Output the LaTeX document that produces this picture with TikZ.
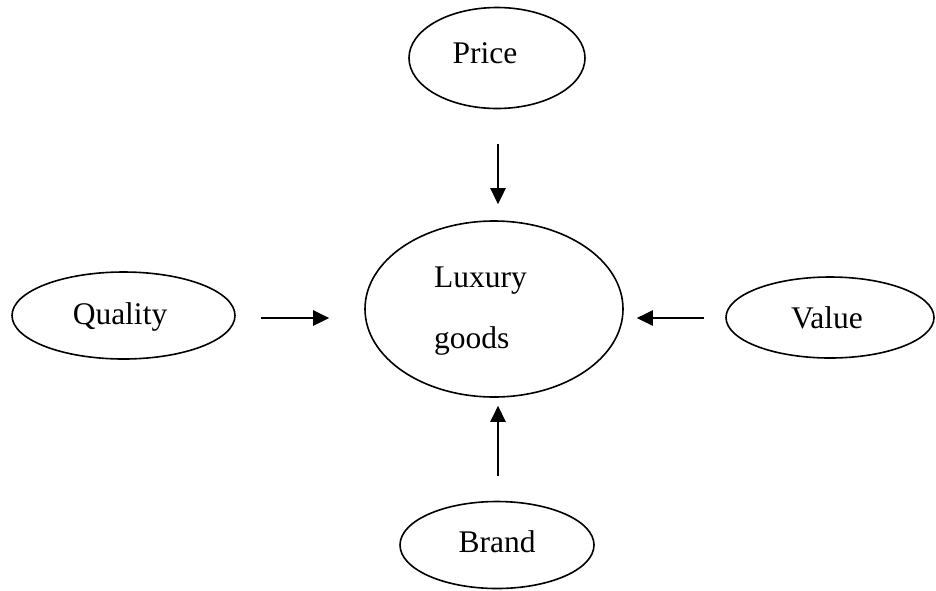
\documentclass[tikz,border=0pt]{standalone}
\usepackage{fontspec}
\setmainfont{Liberation Serif}
\usetikzlibrary{shapes.geometric,arrows.meta,calc}
\begin{document}
\begin{tikzpicture}[x=1pt,y=-1pt,
  oval/.style={draw=black,line width=1.6pt,ellipse,inner sep=0pt},
  lbl/.style={inner sep=0pt,anchor=base,font=\fontsize{31.5}{36}\selectfont},
  arr/.style={line width=2.6pt,-{Triangle[length=16pt,width=15pt]}}]
\useasboundingbox (0,0) rectangle (936,590);
\node[oval,minimum width=176pt,minimum height=101pt] (price) at (497,58) {};
\node[oval,minimum width=258pt,minimum height=176pt] (lux) at (494,309) {};
\node[oval,minimum width=223pt,minimum height=87pt] (qual) at (123.5,315.5) {};
\node[oval,minimum width=208pt,minimum height=81pt] (val) at (830,317.5) {};
\node[oval,minimum width=194pt,minimum height=87pt] (brand) at (497,545) {};
\node[lbl] (priceT) at (485,63) {Price};
\node[lbl] (qualT) at (120,324) {Quality};
\node[lbl] (valT) at (827,328) {Value};
\node[lbl] (brandT) at (497,552) {Brand};
\node[lbl,anchor=base west] (luxT1) at (434,287) {Luxury};
\node[lbl,anchor=base west] (luxT2) at (434,348) {goods};
\draw[arr] ($(price.south)+(1,35)$) -- ($(lux.north)+(4,-16)$);
\draw[arr] ($(qual.east)+(25,2.5)$) -- ($(lux.west)+(-35,9)$);
\draw[arr] ($(val.west)+(-21,0.5)$) -- ($(lux.east)+(13,9)$);
\draw[arr] ($(brand.north)+(1,-25)$) -- ($(lux.south)+(4,8)$);
\end{tikzpicture}
\end{document}
